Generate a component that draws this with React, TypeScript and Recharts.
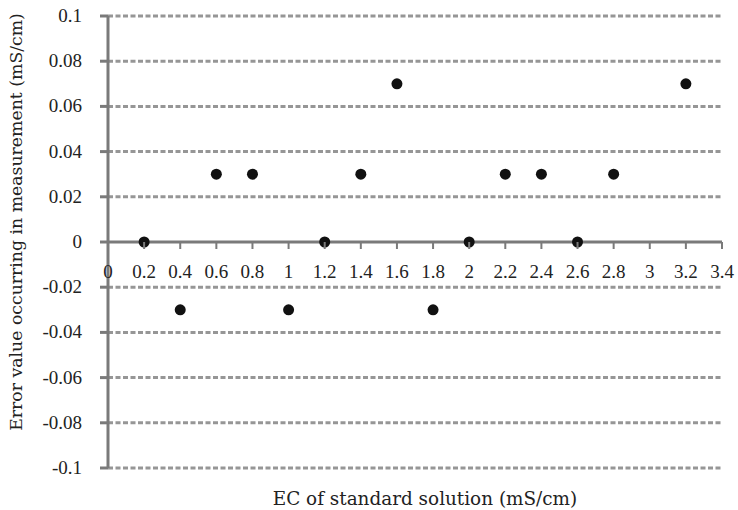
import {
  ScatterChart,
  Scatter,
  XAxis,
  YAxis,
  CartesianGrid,
  ReferenceLine,
} from 'recharts';

const ecValues = [0.2, 0.4, 0.6, 0.8, 1.0, 1.2, 1.4, 1.6, 1.8, 2.0, 2.2, 2.4, 2.6, 2.8, 3.2];
const errorValues = [0, -0.03, 0.03, 0.03, -0.03, 0, 0.03, 0.07, -0.03, 0, 0.03, 0.03, 0, 0.03, 0.07];
const xTicks = [0, 0.2, 0.4, 0.6, 0.8, 1, 1.2, 1.4, 1.6, 1.8, 2, 2.2, 2.4, 2.6, 2.8, 3, 3.2, 3.4];
const yTicks = [-0.1, -0.08, -0.06, -0.04, -0.02, 0, 0.02, 0.04, 0.06, 0.08, 0.1];

const points = ecValues.map((x, i) => ({ x, y: errorValues[i] }));

const W = 738;
const H = 510;
const MARGIN = { top: 16, right: 16, bottom: 0, left: 0 };
const X_AXIS_H = 42;
const Y_AXIS_W = 108;
// domain is symmetric, so y = 0 sits in the middle of the plot
const ZERO_Y = MARGIN.top + (H - MARGIN.top - MARGIN.bottom - X_AXIS_H) / 2;
const TICK_FONT = 'Liberation Serif, serif';
const TITLE_FONT = 'DejaVu Serif, serif';
const AXIS_COLOR = '#7a7a7a';
const TEXT_COLOR = '#222';

function XTick(props: any) {
  const { x, payload } = props;
  return (
    <g>
      <line x1={x} x2={x} y1={ZERO_Y} y2={ZERO_Y + 7} stroke={AXIS_COLOR} strokeWidth={2} />
      <text
        x={x}
        y={ZERO_Y + 36}
        textAnchor="middle"
        style={{ fontFamily: TICK_FONT, fontSize: 19 }}
        fill={TEXT_COLOR}
      >
        {payload.value}
      </text>
    </g>
  );
}

function YTick(props: any) {
  const { x, y, payload } = props;
  return (
    <text
      x={x}
      y={y}
      dy={6}
      textAnchor="end"
      style={{ fontFamily: TICK_FONT, fontSize: 19 }}
      fill={TEXT_COLOR}
    >
      {Math.round(payload.value * 100) / 100}
    </text>
  );
}

function Dot(props: any) {
  const { cx, cy } = props;
  return <circle cx={cx} cy={cy} r={5.5} fill="#111" />;
}

const xTitle = () => (
  <text x={425} y={505} textAnchor="middle" style={{ fontFamily: TITLE_FONT, fontSize: 18.4 }} fill={TEXT_COLOR}>
    EC of standard solution (mS/cm)
  </text>
);

const yTitle = () => (
  <text
    transform="translate(22,222) rotate(-90)"
    textAnchor="middle"
    style={{ fontFamily: TITLE_FONT, fontSize: 17.3 }}
    fill={TEXT_COLOR}
  >
    Error value occurring in measurement (mS/cm)
  </text>
);

export default function App() {
  return (
    <div style={{ position: 'absolute', left: 0, top: 0, width: W, height: H, background: '#fff' }}>
      <ScatterChart width={W} height={H} margin={MARGIN}>
        <CartesianGrid
          vertical={false}
          horizontal
          stroke="#969696"
          strokeWidth={3}
          strokeDasharray="5 2.5"
          horizontalValues={yTicks.filter((v) => v !== 0)}
        />
        <XAxis
          type="number"
          dataKey="x"
          domain={[0, 3.4]}
          ticks={xTicks}
          interval={0}
          axisLine={false}
          tickLine={false}
          tick={<XTick />}
          height={X_AXIS_H}
          label={{ content: xTitle }}
        />
        <YAxis
          type="number"
          dataKey="y"
          domain={[-0.1, 0.1]}
          ticks={yTicks}
          interval={0}
          width={Y_AXIS_W}
          axisLine={{ stroke: AXIS_COLOR, strokeWidth: 3 }}
          tickLine={{ stroke: AXIS_COLOR, strokeWidth: 3 }}
          tickSize={8}
          tickMargin={18}
          tick={<YTick />}
          label={{ content: yTitle }}
        />
        <ReferenceLine y={0} stroke={AXIS_COLOR} strokeWidth={3} />
        <Scatter data={points} shape={<Dot />} isAnimationActive={false} />
      </ScatterChart>
    </div>
  );
}
